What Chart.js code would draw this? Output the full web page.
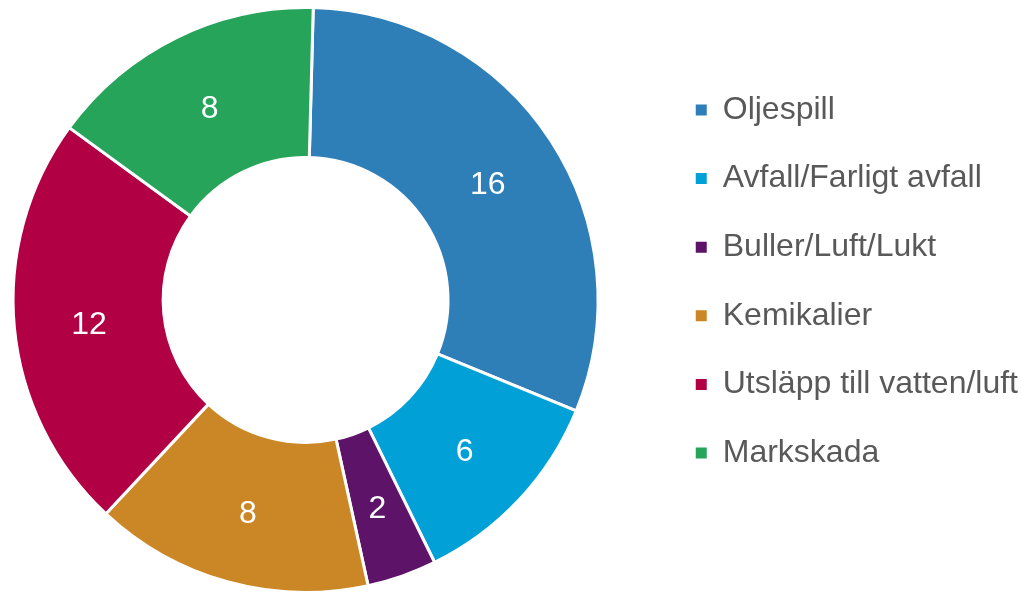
<!DOCTYPE html>
<html>
<head>
<meta charset="utf-8">
<script src="https://cdn.jsdelivr.net/npm/chart.js@4"></script>
<style>
  html, body { margin: 0; padding: 0; background: #ffffff; overflow: hidden; width: 1022px; height: 593px; }
  #wrap { position: absolute; left: -48px; top: 0; width: 1080px; height: 594px; }
</style>
</head>
<body>
<div id="wrap"><canvas id="c"></canvas></div>
<script>
const categories = ['Oljespill', 'Avfall/Farligt avfall', 'Buller/Luft/Lukt', 'Kemikalier', 'Utsläpp till vatten/luft', 'Markskada'];
const counts = [16, 6, 2, 8, 12, 8];
const sliceColors = ['#2E7FB8', '#01A1D7', '#5D1367', '#CB8725', '#B10043', '#25A45A'];

const FONT = "'Liberation Sans', Arial, Helvetica, sans-serif";

const sliceLabels = {
  id: 'sliceLabels',
  afterDatasetsDraw(chart) {
    const ctx = chart.ctx;
    const meta = chart.getDatasetMeta(0);
    ctx.save();
    ctx.font = '32px ' + FONT;
    ctx.fillStyle = '#ffffff';
    ctx.textAlign = 'center';
    ctx.textBaseline = 'alphabetic';
    meta.data.forEach((arc, i) => {
      const p = arc.getCenterPoint();
      ctx.fillText(String(chart.data.datasets[0].data[i]), p.x, p.y + 13);
    });
    ctx.restore();
  }
};

new Chart(document.getElementById('c'), {
  type: 'doughnut',
  data: {
    labels: categories,
    datasets: [{
      data: counts,
      backgroundColor: sliceColors,
      borderColor: '#ffffff',
      borderWidth: 3,
      hoverOffset: 0
    }]
  },
  options: {
    responsive: true,
    maintainAspectRatio: false,
    animation: false,
    rotation: 1.5,
    cutout: '48.7%',
    layout: { padding: { left: 0, right: 4, top: 6, bottom: 0 } },
    plugins: {
      tooltip: { enabled: false },
      legend: {
        position: 'right',
        align: 'start',
        title: { display: true, text: ' ', font: { size: 10, lineHeight: 1 }, padding: { top: 20, bottom: 21.4 } },
        labels: {
          boxWidth: 11,
          boxHeight: 11,
          padding: 36.6,
          color: '#595959',
          font: { size: 32, family: FONT },
          generateLabels: (chart) => Chart.overrides.doughnut.plugins.legend.labels.generateLabels(chart)
            .map(l => Object.assign({}, l, { lineWidth: 0, strokeStyle: l.fillStyle }))
        }
      }
    }
  },
  plugins: [sliceLabels]
});
</script>
</body>
</html>
